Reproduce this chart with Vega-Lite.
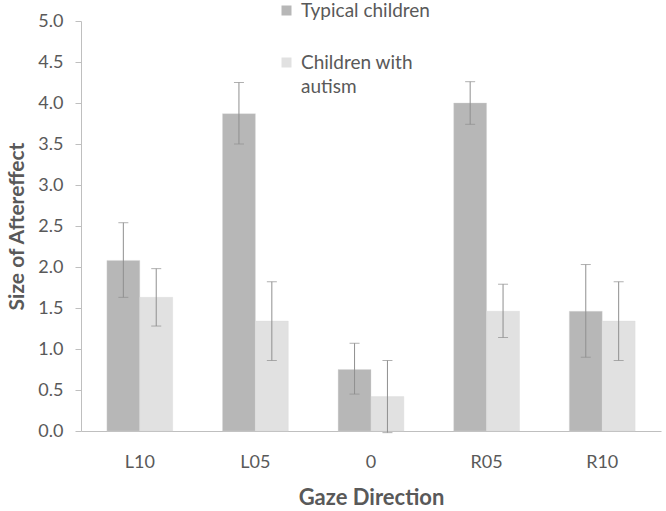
{
  "$schema": "https://vega.github.io/schema/vega-lite/v6.json",
  "width": 580,
  "height": 410,
  "autosize": "none",
  "padding": {"left": 81, "top": 21, "right": 5, "bottom": 80},
  "background": "white",
  "config": {
    "view": {"stroke": null},
    "font": "Lato",
    "style": {"guide-label": {"lineHeight": 24}},
    "axis": {"labelFont": "Lato", "titleFont": "Lato", "labelColor": "#595959", "titleColor": "#595959", "domainColor": "#bfbfbf", "tickColor": "#bfbfbf", "grid": false}
  },
  "data": {
    "values": [
      {"dir": "L10", "group": "Typical children", "value": 2.08, "lo": 1.63, "hi": 2.54},
      {"dir": "L10", "group": "Children with autism", "value": 1.63, "lo": 1.28, "hi": 1.98},
      {"dir": "L05", "group": "Typical children", "value": 3.87, "lo": 3.5, "hi": 4.25},
      {"dir": "L05", "group": "Children with autism", "value": 1.34, "lo": 0.86, "hi": 1.82},
      {"dir": "0", "group": "Typical children", "value": 0.75, "lo": 0.45, "hi": 1.07},
      {"dir": "0", "group": "Children with autism", "value": 0.42, "lo": -0.02, "hi": 0.86},
      {"dir": "R05", "group": "Typical children", "value": 4.0, "lo": 3.74, "hi": 4.26},
      {"dir": "R05", "group": "Children with autism", "value": 1.46, "lo": 1.14, "hi": 1.79},
      {"dir": "R10", "group": "Typical children", "value": 1.46, "lo": 0.9, "hi": 2.03},
      {"dir": "R10", "group": "Children with autism", "value": 1.34, "lo": 0.86, "hi": 1.82}
    ]
  },
  "encoding": {
    "x": {
      "field": "dir", "type": "nominal", "sort": ["L10", "L05", "0", "R05", "R10"],
      "scale": {"paddingInner": 0.431, "paddingOuter": 0.224},
      "axis": {"title": "Gaze Direction", "labelAngle": 0, "ticks": false, "labelPadding": 22, "labelFontSize": 18, "titleFontSize": 22, "titleFontWeight": "bold", "titlePadding": 16}
    },
    "xOffset": {"field": "group", "type": "nominal", "sort": ["Typical children", "Children with autism"], "scale": {"paddingInner": 0, "paddingOuter": 0}}
  },
  "layer": [
    {
      "mark": {"type": "bar", "stroke": "#d9d9d9", "strokeWidth": 0.6, "strokeOpacity": 0.6},
      "encoding": {
        "y": {
          "field": "value", "type": "quantitative",
          "scale": {"domain": [0, 5], "nice": false},
          "axis": {"title": "Size of Aftereffect", "values": [0, 0.5, 1, 1.5, 2, 2.5, 3, 3.5, 4, 4.5, 5], "format": ".1f", "tickSize": 6, "labelPadding": 12, "labelFontSize": 18, "titleFontSize": 21, "titleFontWeight": "bold", "titlePadding": 10}
        },
        "color": {
          "field": "group", "type": "nominal",
          "scale": {"domain": ["Typical children", "Children with autism"], "range": ["#b7b7b7", "#e1e1e1"]},
          "legend": {
            "title": null, "orient": "none", "legendX": 196, "legendY": -20,
            "symbolType": "square", "symbolSize": 100, "symbolStrokeWidth": 0,
            "labelFontSize": 19, "labelColor": "#595959", "labelFont": "Lato",
            "rowPadding": 32, "labelOffset": 5, "labelLimit": 300,
            "labelExpr": "datum.label == 'Children with autism' ? ['Children with', 'autism'] : datum.label"
          }
        }
      }
    },
    {
      "mark": {"type": "rule", "color": "#8f8f8f", "strokeWidth": 1},
      "encoding": {
        "y": {"field": "lo", "type": "quantitative"},
        "y2": {"field": "hi"}
      }
    },
    {
      "mark": {"type": "tick", "color": "#8f8f8f", "thickness": 1, "size": 10},
      "encoding": {"y": {"field": "lo", "type": "quantitative"}}
    },
    {
      "mark": {"type": "tick", "color": "#8f8f8f", "thickness": 1, "size": 10},
      "encoding": {"y": {"field": "hi", "type": "quantitative"}}
    }
  ]
}
